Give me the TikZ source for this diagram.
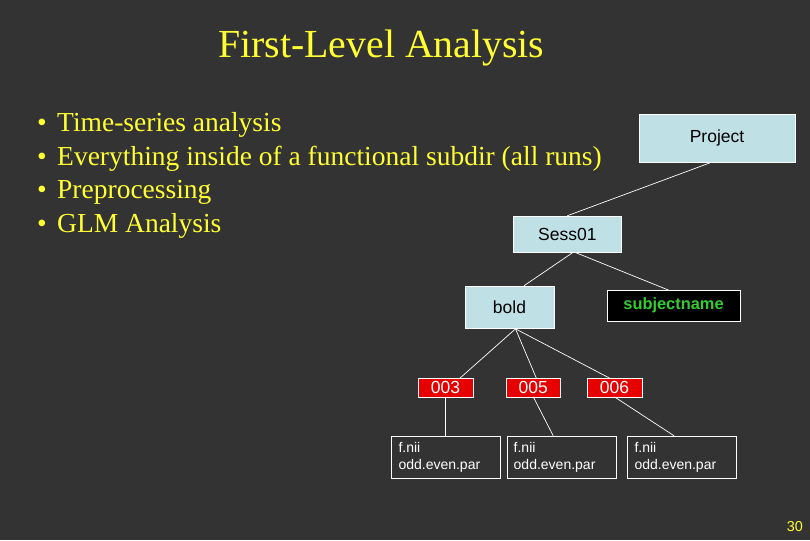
\documentclass[tikz,border=0pt]{standalone}
\usepackage{fontspec}
\setmainfont{Liberation Serif}
\newfontfamily\arialfont{Liberation Sans}
\definecolor{slidebg}{RGB}{51,51,51}
\definecolor{slideyellow}{RGB}{255,255,51}
\definecolor{dirblue}{RGB}{191,224,229}
\definecolor{runred}{RGB}{230,0,0}
\definecolor{subjgreen}{RGB}{51,204,51}
\tikzset{
  dirbox/.style={draw=white, fill=dirblue, text=black, inner sep=0pt,
    font=\arialfont\fontsize{17.5}{20}\selectfont},
  runbox/.style={draw=white, fill=runred, text=white, inner sep=0pt,
    minimum width=54.4pt, minimum height=18.4pt,
    font=\arialfont\fontsize{17.5}{20}\selectfont},
  filebox/.style={draw=white, text=white, align=left, text width=95pt,
    inner xsep=7pt, inner ysep=0pt, minimum height=42.7pt,
    font=\arialfont\fontsize{14}{16.5}\selectfont},
  bullettext/.style={anchor=base west, inner sep=0pt, text=slideyellow,
    font=\fontsize{27.5}{33}\selectfont},
  branch/.style={draw=white, line width=0.7pt},
}
\begin{document}
\begin{tikzpicture}[x=1pt,y=-1pt]
      \fill[slidebg] (0,0) rectangle (810,540);
      \node[anchor=base west, inner sep=0pt, text=slideyellow,
        font=\fontsize{39.8}{47}\selectfont] (title) at (218,58) {First-Level Analysis};
      \foreach \line [count=\i] in {Time-series analysis,
        Everything inside of a functional subdir (all runs),
        Preprocessing, GLM Analysis} {
        \node[bullettext] (dot\i) at (37,{98+33.5*\i}) {•};
        \node[bullettext] (item\i) at (57,{98+33.5*\i}) {\line};
      }
      \node[dirbox, minimum width=156pt, minimum height=48.7pt] (project) at (717,138.3) {Project};
      \node[dirbox, minimum width=108pt, minimum height=36.7pt] (sess) at (567.3,234.3) {Sess01};
      \node[dirbox, minimum width=89pt, minimum height=42.7pt] (bold) at (509.5,307.3) {bold};
      \node[dirbox, fill=black, text=subjgreen, minimum width=132.4pt,
        minimum height=30.4pt, font=\arialfont\bfseries\fontsize{16.4}{20}\selectfont]
        (subj) at (673.5,305.5) {subjectname};
      \node[runbox] (r003) at (445.5,387.5) {003};
      \node[runbox] (r005) at (533.3,387.5) {005};
      \node[runbox] (r006) at (614.5,387.5) {006};
      \node[filebox] (f003) at (446,457.3) {f.nii\\odd.even.par};
      \node[filebox] (f005) at (561.2,457.3) {f.nii\\odd.even.par};
      \node[filebox] (f006) at (682,457.3) {f.nii\\odd.even.par};
      \draw[branch] ([xshift=-7pt]project.south) -- (sess.north);
      \draw[branch] ([xshift=5pt]sess.south) -- ([xshift=14.5pt]bold.north);
      \draw[branch] ([xshift=9pt]sess.south) -- ([xshift=-5pt]subj.north);
      \draw[branch] ([xshift=6pt]bold.south) -- ([xshift=14.5pt]r003.north);
      \draw[branch] ([xshift=6pt]bold.south) -- ([xshift=3pt]r005.north);
      \draw[branch] ([xshift=6pt]bold.south) -- ([xshift=-5pt]r006.north);
      \draw[branch] (r003.south) -- (r003.south |- f003.north);
      \draw[branch] (r005.south) -- ([xshift=-8pt]f005.north);
      \draw[branch] (r006.south) -- ([xshift=-8pt]f006.north);
      \node[anchor=base east, inner sep=0pt, text=slideyellow,
        font=\arialfont\fontsize{14.4}{17}\selectfont] (page) at (803,531.7) {30};
    \end{tikzpicture}
\end{document}
